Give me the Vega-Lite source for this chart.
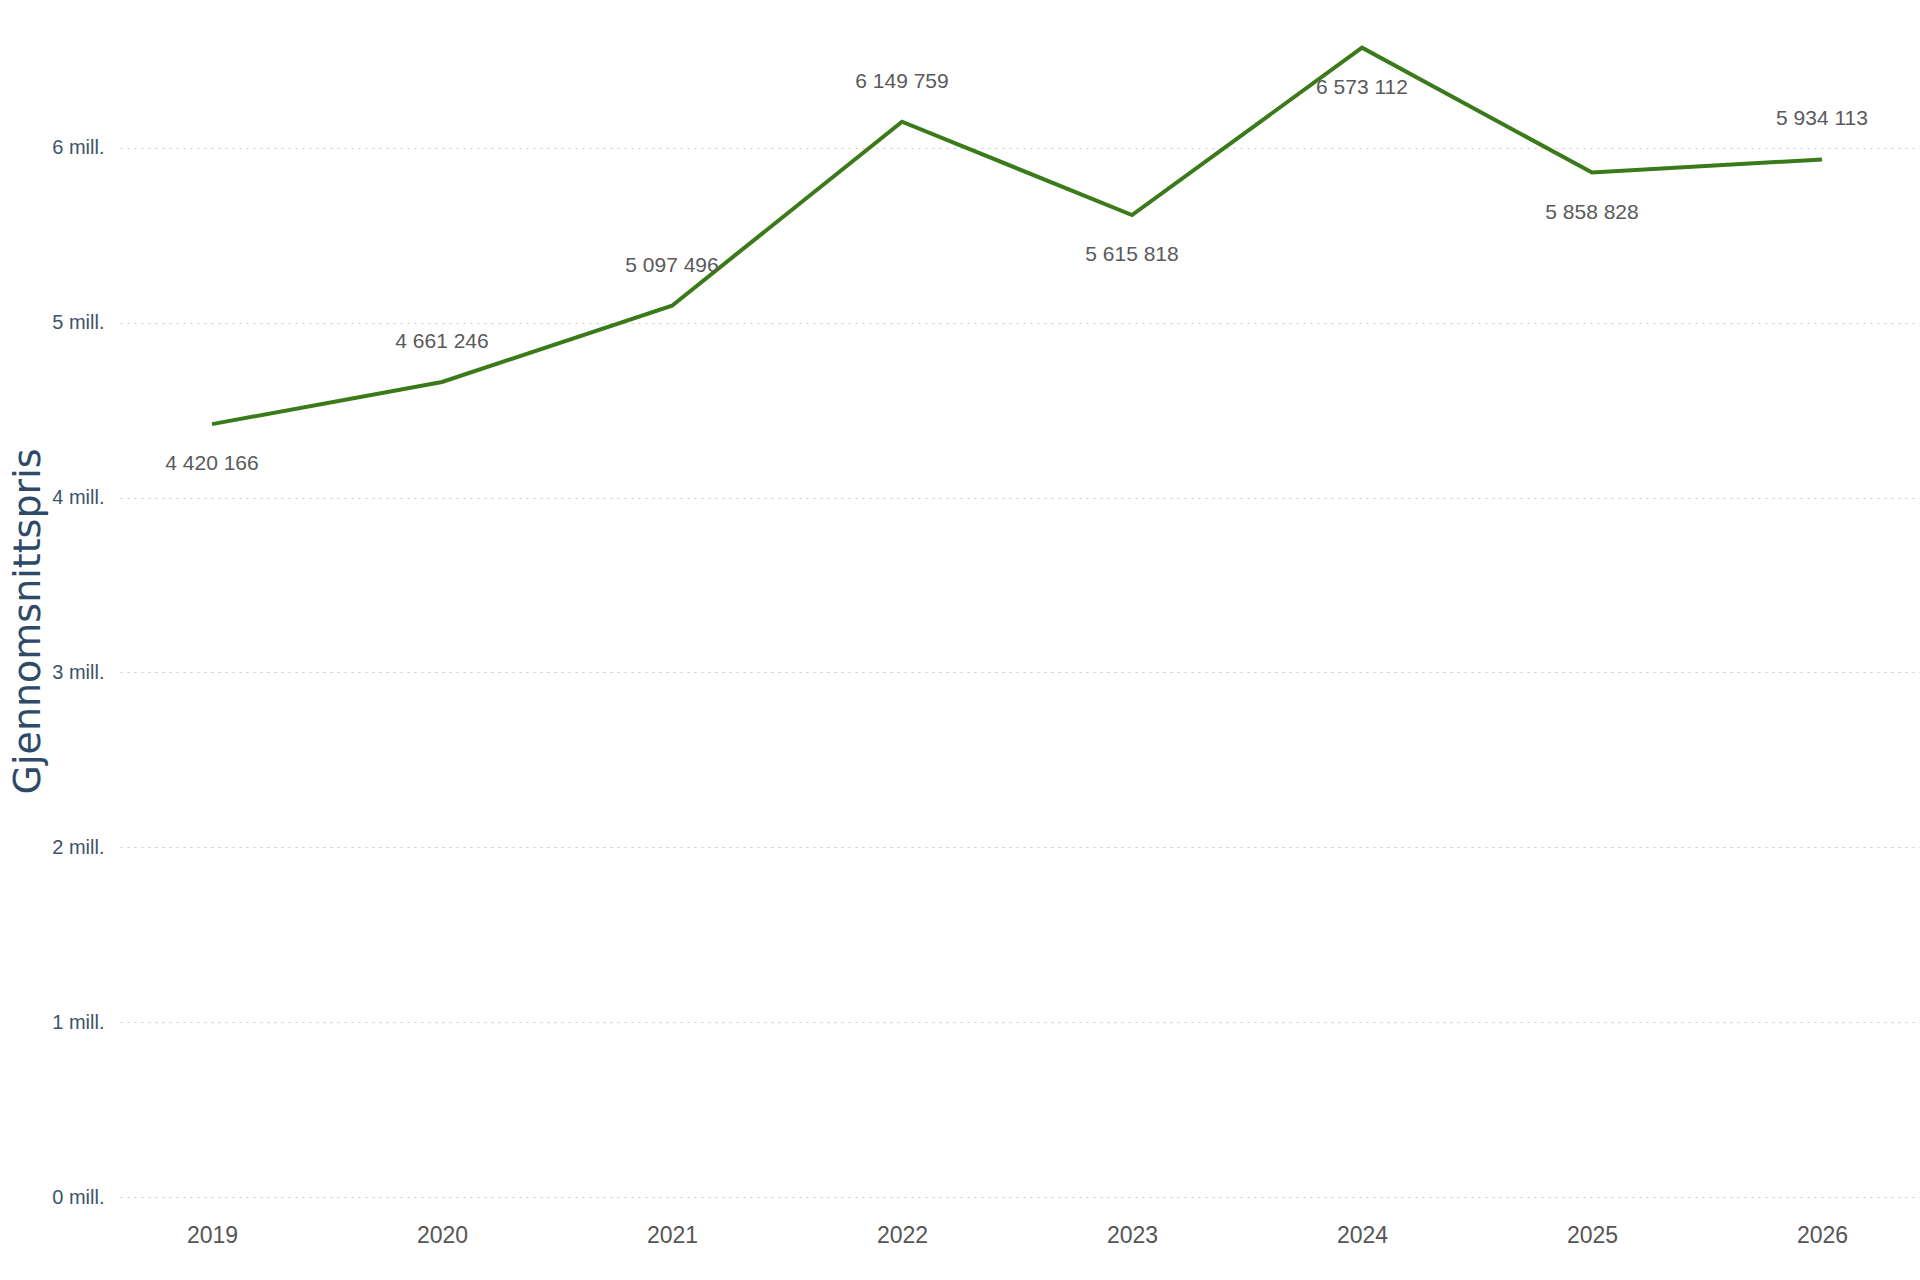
{
  "$schema": "https://vega.github.io/schema/vega-lite/v6.json",
  "autosize": {"type": "none"},
  "padding": {"left": 120, "top": 8, "right": 0, "bottom": 83},
  "width": 1800,
  "height": 1189,
  "background": "white",
  "config": {
    "view": {"stroke": null},
    "locale": {
      "number": {"decimal": ",", "thousands": " ", "grouping": [3], "currency": ["", " kr"]}
    }
  },
  "data": {
    "values": [
      {"year": 2019, "price": 4420166},
      {"year": 2020, "price": 4661246},
      {"year": 2021, "price": 5097496},
      {"year": 2022, "price": 6149759},
      {"year": 2023, "price": 5615818},
      {"year": 2024, "price": 6573112},
      {"year": 2025, "price": 5858828},
      {"year": 2026, "price": 5934113}
    ]
  },
  "encoding": {
    "x": {
      "field": "year",
      "type": "quantitative",
      "scale": {"domain": [2018.6, 2026.426], "nice": false, "zero": false},
      "axis": {
        "title": null,
        "values": [2019, 2020, 2021, 2022, 2023, 2024, 2025, 2026],
        "format": "d",
        "grid": false,
        "domain": false,
        "ticks": false,
        "labelFont": "Liberation Sans",
        "labelFontSize": 23,
        "labelColor": "#555555",
        "labelPadding": 27
      }
    },
    "y": {
      "field": "price",
      "type": "quantitative",
      "scale": {"domain": [0, 6800000], "nice": false},
      "axis": {
        "title": "Gjennomsnittspris",
        "titleFont": "DejaVu Sans",
        "titleFontSize": 38,
        "titleFontWeight": "normal",
        "titleColor": "#2e4a66",
        "titleX": -92,
        "titleY": 613,
        "titleAngle": 270,
        "titleBaseline": "middle",
        "titleAlign": "center",
        "values": [0, 1000000, 2000000, 3000000, 4000000, 5000000, 6000000],
        "labelExpr": "format(datum.value / 1000000, 'd') + ' mill.'",
        "labelFont": "Liberation Sans",
        "labelFontSize": 20,
        "labelColor": "#3e5368",
        "labelPadding": 16,
        "domain": false,
        "ticks": false,
        "grid": true,
        "gridColor": "#c8c8c8",
        "gridDash": [2, 5],
        "gridWidth": 1
      }
    }
  },
  "layer": [
    {
      "mark": {"type": "line", "color": "#3a7a1a", "strokeWidth": 4}
    },
    {
      "transform": [{"filter": "indexof([2020, 2021, 2022, 2026], datum.year) >= 0"}],
      "mark": {
        "type": "text",
        "dy": -40,
        "baseline": "middle",
        "font": "Liberation Sans",
        "fontSize": 21,
        "color": "#5a5a5a"
      },
      "encoding": {"text": {"field": "price", "type": "quantitative", "format": ",d"}}
    },
    {
      "transform": [{"filter": "indexof([2019, 2023, 2024, 2025], datum.year) >= 0"}],
      "mark": {
        "type": "text",
        "dy": 40,
        "baseline": "middle",
        "font": "Liberation Sans",
        "fontSize": 21,
        "color": "#5a5a5a"
      },
      "encoding": {"text": {"field": "price", "type": "quantitative", "format": ",d"}}
    }
  ]
}
